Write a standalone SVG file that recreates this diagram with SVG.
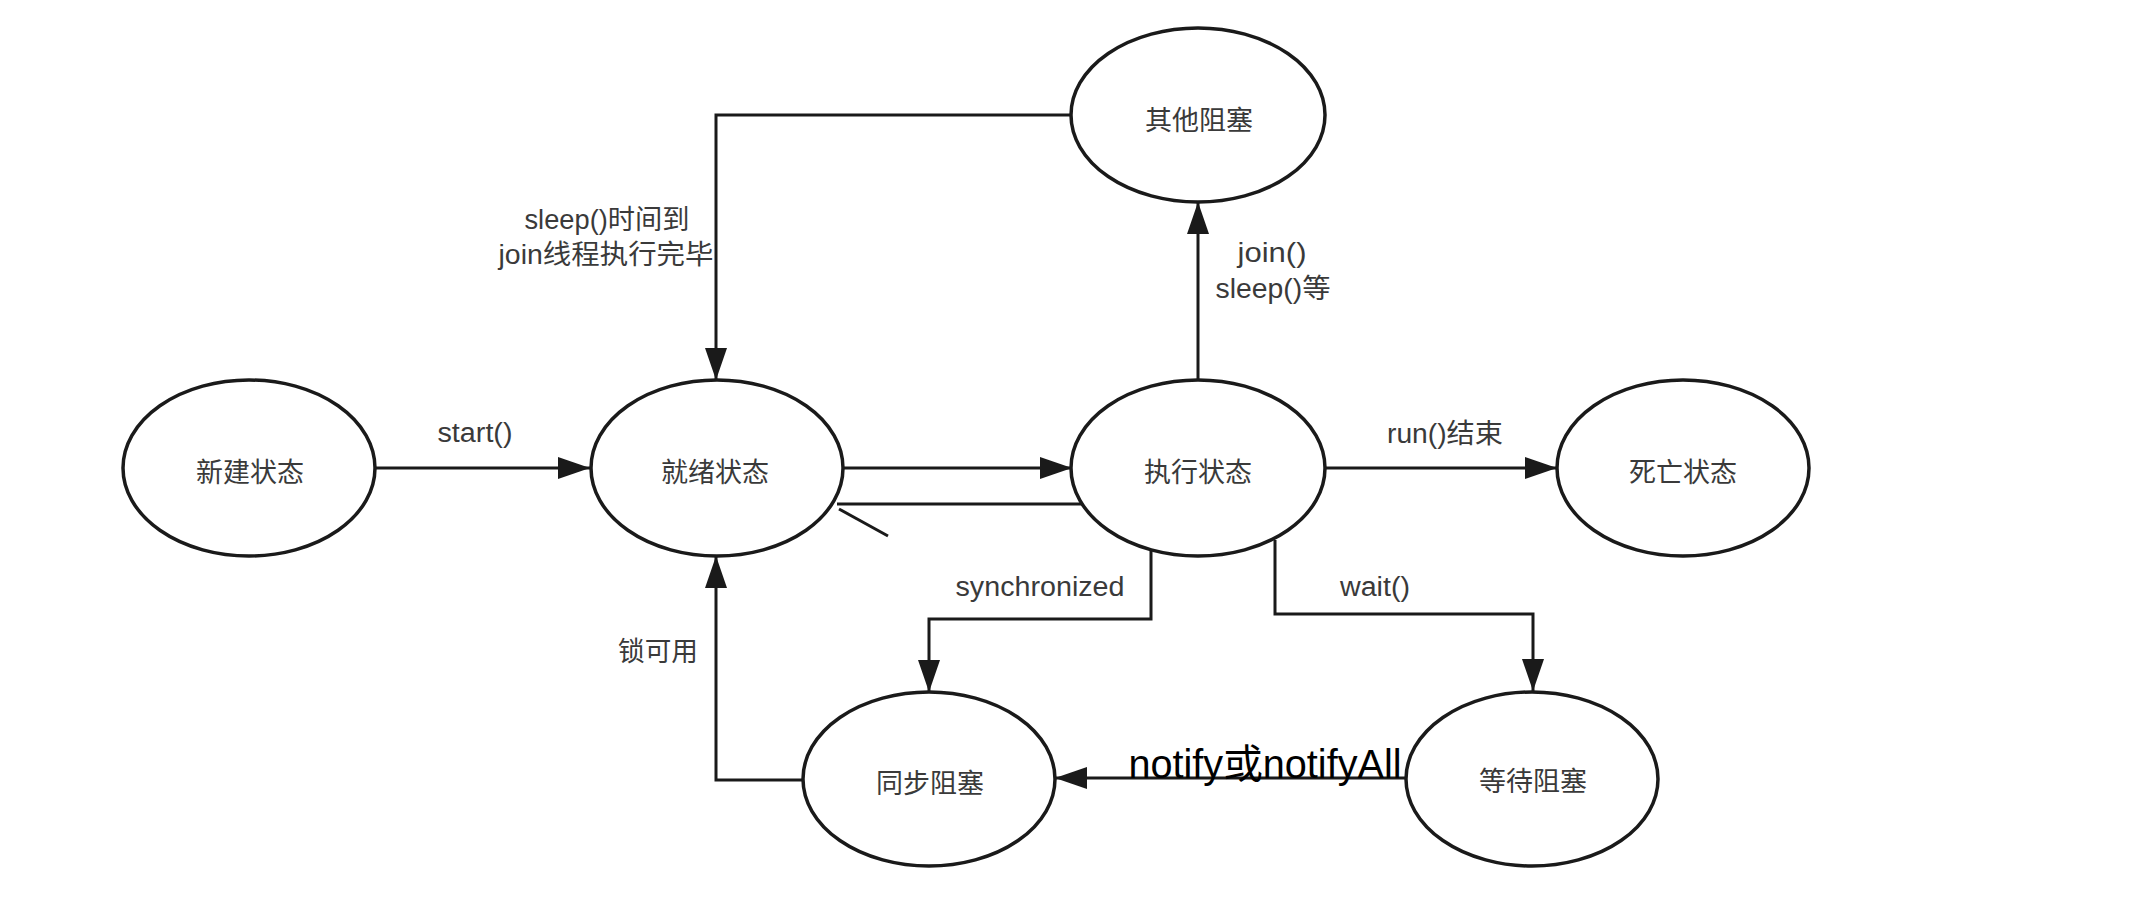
<svg xmlns="http://www.w3.org/2000/svg" width="2142" height="921" viewBox="0 0 2142 921">
<style>
.node ellipse{fill:#fff;stroke:#1a1a1a;stroke-width:3.5}
.node text{font-family:"Liberation Sans","Noto Sans CJK SC",sans-serif;font-size:27px;fill:#3a3a3a;text-anchor:middle}
.edge{fill:none;stroke:#1a1a1a;stroke-width:3}
.lbl{font-family:"Liberation Sans","Noto Sans CJK SC",sans-serif;font-size:27px;fill:#3a3a3a;text-anchor:middle}
</style>
<defs>
<marker id="arr" viewBox="0 0 32 22" refX="32" refY="11" markerWidth="32" markerHeight="22" markerUnits="userSpaceOnUse" orient="auto">
<path d="M0,0 L32,11 L0,22 z" fill="#1a1a1a"/>
</marker>
</defs>
<rect width="2142" height="921" fill="#fff"/>
<g id="connectors">
<path class="edge" d="M375,468 H590" marker-end="url(#arr)"/>
<path class="edge" d="M843,468 H1072" marker-end="url(#arr)"/>
<path class="edge" d="M1325,468 H1557" marker-end="url(#arr)"/>
<path class="edge" d="M1198,380 V202" marker-end="url(#arr)"/>
<path class="edge" d="M1071,115 H716 V380" marker-end="url(#arr)"/>
<path class="edge" d="M1151,551 V619 H929 V692" marker-end="url(#arr)"/>
<path class="edge" d="M1275,540 V614 H1533 V691" marker-end="url(#arr)"/>
<path class="edge" d="M1406,778 H1055" marker-end="url(#arr)"/>
<path class="edge" d="M803,780 H716 V556" marker-end="url(#arr)"/>
<path class="edge" d="M1082,504 H837" stroke-width="4"/>
<path class="edge" d="M839,509 L888,536" stroke-width="4"/>
<text class="lbl" x="475" y="442" textLength="75" lengthAdjust="spacingAndGlyphs">start()</text>
<text class="lbl" x="607" y="229" textLength="165" lengthAdjust="spacingAndGlyphs">sleep()时间到</text>
<text class="lbl" x="606" y="264" textLength="215" lengthAdjust="spacingAndGlyphs">join线程执行完毕</text>
<text class="lbl" x="1272" y="262" textLength="69" lengthAdjust="spacingAndGlyphs">join()</text>
<text class="lbl" x="1273" y="298" textLength="115" lengthAdjust="spacingAndGlyphs">sleep()等</text>
<text class="lbl" x="1445" y="443" textLength="116" lengthAdjust="spacingAndGlyphs">run()结束</text>
<text class="lbl" x="1040" y="596" textLength="169" lengthAdjust="spacingAndGlyphs">synchronized</text>
<text class="lbl" x="1375" y="596" textLength="70" lengthAdjust="spacingAndGlyphs">wait()</text>
<text class="lbl" x="658" y="661" textLength="80" lengthAdjust="spacingAndGlyphs">锁可用</text>
<text x="1265" y="778" font-family="Liberation Sans, Noto Sans CJK SC, sans-serif" font-size="40" fill="#000" text-anchor="middle" textLength="273" lengthAdjust="spacingAndGlyphs">notify或notifyAll</text>
</g>
<g id="node-new" class="node"><ellipse cx="249" cy="468" rx="126" ry="88"/><text x="250" y="482">新建状态</text></g>
<g id="node-ready" class="node"><ellipse cx="717" cy="468" rx="126" ry="88"/><text x="715" y="482">就绪状态</text></g>
<g id="node-running" class="node"><ellipse cx="1198" cy="468" rx="127" ry="88"/><text x="1198" y="482">执行状态</text></g>
<g id="node-dead" class="node"><ellipse cx="1683" cy="468" rx="126" ry="88"/><text x="1683" y="482">死亡状态</text></g>
<g id="node-other" class="node"><ellipse cx="1198" cy="115" rx="127" ry="87"/><text x="1199" y="130">其他阻塞</text></g>
<g id="node-sync" class="node"><ellipse cx="929" cy="779" rx="126" ry="87"/><text x="930" y="793">同步阻塞</text></g>
<g id="node-wait" class="node"><ellipse cx="1532" cy="779" rx="126" ry="87"/><text x="1533" y="791">等待阻塞</text></g>
</svg>
